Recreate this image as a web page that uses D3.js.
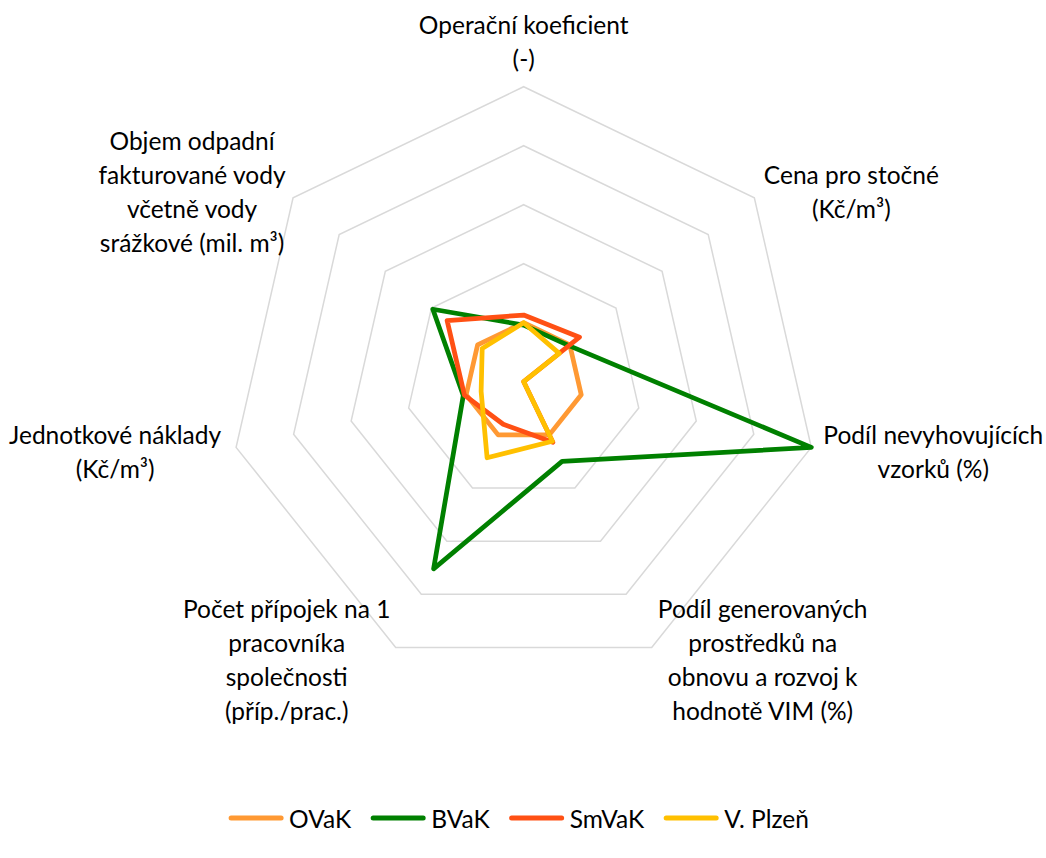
<!DOCTYPE html>
<html>
<head>
<meta charset="utf-8">
<script src="https://cdn.jsdelivr.net/npm/d3@7"></script>
<style>
  html, body { margin: 0; padding: 0; background: #ffffff; }
  svg { display: block; }
  text { font-family: Lato, "Open Sans", sans-serif; fill: #000; }
</style>
</head>
<body>
<svg id="chart" width="1046" height="858"></svg>
<script>
// Radar chart: indicators of water utilities, relative to OVaK (= 1)
const axisLabels = [
  ["Operační koeficient", "(-)"],
  ["Cena pro stočné", "(Kč/m³)"],
  ["Podíl nevyhovujících", "vzorků (%)"],
  ["Podíl generovaných", "prostředků na", "obnovu a rozvoj k", "hodnotě VIM (%)"],
  ["Počet přípojek na 1", "pracovníka", "společnosti", "(příp./prac.)"],
  ["Jednotkové náklady", "(Kč/m³)"],
  ["Objem odpadní", "fakturované vody", "včetně vody", "srážkové (mil. m³)"]
];
const seriesNames = ["OVaK", "BVaK", "SmVaK", "V. Plzeň"];
const ovakValues   = [1.00, 1.00, 1.00, 1.00, 1.00, 1.00, 1.00];
const bvakValues   = [0.96, 0.98, 5.00, 1.50, 3.52, 1.05, 1.97];
const smvakValues  = [1.13, 1.21, 0.00, 1.14, 0.80, 1.03, 1.66];
const plzenValues  = [1.00, 0.77, 0.00, 1.12, 1.43, 0.74, 0.90];
const gridLevels   = [1, 2, 3, 4, 5];

const seriesValues = [ovakValues, bvakValues, smvakValues, plzenValues];
const colors = ["#FF9933", "#008000", "#FF5014", "#FFC000"];

const svg = d3.select("#chart");
const cx = 523.7, cy = 381.7, R = 295;
const n = axisLabels.length;

const r = d3.scaleLinear().domain([0, 5]).range([0, R]);
const angle = d3.scaleLinear().domain([0, n]).range([0, 2 * Math.PI]);

const g = svg.append("g").attr("transform", `translate(${cx},${cy})`);

// concentric heptagon gridlines
const ring = d3.lineRadial()
  .angle((d, i) => angle(i))
  .radius(d => r(d))
  .curve(d3.curveLinearClosed);

g.append("g").selectAll("path")
  .data(gridLevels)
  .join("path")
  .attr("d", lv => ring(d3.range(n).map(() => lv)))
  .attr("fill", "none")
  .attr("stroke", "#D9D9D9")
  .attr("stroke-width", 1.5);

// series outlines
g.append("g").selectAll("path")
  .data(seriesValues)
  .join("path")
  .attr("d", vals => ring(vals))
  .attr("fill", "none")
  .attr("stroke", (d, i) => colors[i])
  .attr("stroke-width", 4.75)
  .attr("stroke-linejoin", "round");

// axis labels, placed relative to each outer vertex
const labelShift = [[0, -45.7], [97, -6], [122, 4], [111, 12], [-109, 12], [-121, 4], [-101, -6]];
const lineH = 34;
const fontSize = 24.5;

axisLabels.forEach((lines, i) => {
  const a = angle(i);
  const vx = Math.sin(a) * r(5);
  const vy = -Math.cos(a) * r(5);
  const x = vx + labelShift[i][0];
  const yMid = vy + labelShift[i][1];
  const y0 = yMid - (lines.length - 1) * lineH / 2;
  const t = g.append("text")
    .attr("text-anchor", "middle")
    .attr("font-size", fontSize);
  lines.forEach((ln, k) => {
    t.append("tspan")
      .attr("x", x)
      .attr("y", y0 + k * lineH)
      .attr("dominant-baseline", "central")
      .text(ln);
  });
});

// legend
const legend = svg.append("g").attr("transform", "translate(0,818)");
const swatch = 50, swGap = 8, itemGap = 22;
const items = legend.selectAll("g").data(seriesNames).join("g");
items.append("line")
  .attr("x1", 0).attr("x2", swatch)
  .attr("y1", 0).attr("y2", 0)
  .attr("stroke", (d, i) => colors[i])
  .attr("stroke-width", 5)
  .attr("stroke-linecap", "round");
items.append("text")
  .attr("x", swatch + swGap)
  .attr("y", 0)
  .attr("dominant-baseline", "central")
  .attr("font-size", fontSize)
  .text(d => d);

const widths = [];
items.each(function () {
  widths.push(swatch + swGap + d3.select(this).select("text").node().getComputedTextLength());
});
const total = d3.sum(widths) + itemGap * (widths.length - 1);
let xPos = 520 - total / 2;
items.each(function (d, i) {
  d3.select(this).attr("transform", `translate(${xPos},0)`);
  xPos += widths[i] + itemGap;
});
</script>
</body>
</html>
